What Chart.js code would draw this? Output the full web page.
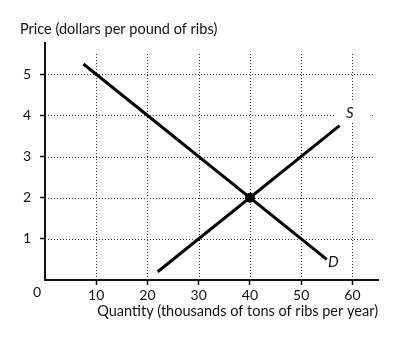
<!DOCTYPE html>
<html>
<head>
<meta charset="utf-8">
<script src="https://cdn.jsdelivr.net/npm/chart.js@4/dist/chart.umd.min.js"></script>
<style>
  body { margin: 0; background: #fff; }
  #wrap { width: 400px; height: 340px; }
</style>
</head>
<body>
<div id="wrap"><canvas id="ribsChart" width="400" height="340"></canvas></div>
<script>
// market for ribs: demand and supply curves
const demandQty = [7.5, 55];
const demandPrice = [5.25, 0.5];
const supplyQty = [22, 57.5];
const supplyPrice = [0.2, 3.75];
const eqQty = [40];
const eqPrice = [2];

const xTicks = [10, 20, 30, 40, 50, 60];
const yTicks = [1, 2, 3, 4, 5];

// where the curve names sit, in data units
const curveLabels = [
  { text: 'S', q: 59.5, p: 4.05, clear: true },
  { text: 'D', q: 56.3, p: 0.43, clear: false }
];

const FONT = 'Lato, "Open Sans", sans-serif';

const toPoints = (qs, ps) => qs.map((q, i) => ({ x: q, y: ps[i] }));

// dotted grid that stops short of the axis ends, plus curve names and origin 0
const ribsDecor = {
  id: 'ribsDecor',
  beforeDatasetsDraw(chart) {
    const { ctx, scales: { x, y } } = chart;
    ctx.save();
    ctx.strokeStyle = '#333';
    ctx.lineWidth = 1;
    ctx.setLineDash([1, 2]);
    yTicks.forEach(v => {
      const py = Math.round(y.getPixelForValue(v)) + 0.5;
      ctx.beginPath();
      ctx.moveTo(x.getPixelForValue(0), py);
      ctx.lineTo(x.getPixelForValue(64), py);
      ctx.stroke();
    });
    xTicks.forEach(v => {
      const px = Math.round(x.getPixelForValue(v)) + 0.5;
      ctx.beginPath();
      ctx.moveTo(px, y.getPixelForValue(0));
      ctx.lineTo(px, y.getPixelForValue(5.5));
      ctx.stroke();
    });
    ctx.setLineDash([]);
    ctx.font = 'italic 15px ' + FONT;
    ctx.textAlign = 'center';
    ctx.textBaseline = 'middle';
    curveLabels.forEach(l => {
      const px = x.getPixelForValue(l.q);
      const py = y.getPixelForValue(l.p);
      if (l.clear) {
        ctx.fillStyle = '#fff';
        ctx.fillRect(px - 16, py - 13, 38, 22);
      }
      ctx.fillStyle = '#111';
      ctx.fillText(l.text, px, py);
    });
    ctx.restore();
  },
  afterDraw(chart) {
    const { ctx, scales: { x, y } } = chart;
    ctx.save();
    ctx.font = '14px ' + FONT;
    ctx.fillStyle = '#111';
    ctx.textAlign = 'center';
    ctx.textBaseline = 'middle';
    ctx.fillText('0', x.getPixelForValue(0) - 8, y.getPixelForValue(0) + 12);
    ctx.restore();
  }
};

const tickGrid = {
  display: true,
  drawOnChartArea: false,
  drawTicks: true,
  tickLength: 5,
  tickColor: '#111',
  tickWidth: 1.5
};

new Chart(document.getElementById('ribsChart'), {
  type: 'scatter',
  data: {
    datasets: [
      {
        label: 'D',
        data: toPoints(demandQty, demandPrice),
        showLine: true,
        borderColor: '#000',
        borderWidth: 3,
        pointRadius: 0
      },
      {
        label: 'S',
        data: toPoints(supplyQty, supplyPrice),
        showLine: true,
        borderColor: '#000',
        borderWidth: 3,
        pointRadius: 0
      },
      {
        label: 'equilibrium',
        data: toPoints(eqQty, eqPrice),
        backgroundColor: '#000',
        borderColor: '#000',
        pointRadius: 4.5
      }
    ]
  },
  options: {
    responsive: false,
    animation: false,
    layout: { padding: { left: 20, right: 22, top: 0, bottom: 0 } },
    plugins: {
      legend: { display: false },
      tooltip: { enabled: false },
      title: {
        display: true,
        text: 'Price (dollars per pound of ribs)',
        align: 'start',
        color: '#111',
        font: { family: FONT, size: 14.5, weight: 'normal' },
        padding: { top: 21, bottom: 5 }
      }
    },
    scales: {
      x: {
        type: 'linear',
        min: 0,
        max: 65,
        afterBuildTicks: s => { s.ticks = xTicks.map(v => ({ value: v })); },
        afterFit: s => { s.height = 60; },
        ticks: {
          autoSkip: false,
          maxRotation: 0,
          padding: 2,
          color: '#111',
          font: { family: FONT, size: 14 }
        },
        grid: tickGrid,
        border: { display: true, color: '#111', width: 2 },
        title: {
          display: true,
          text: 'Quantity (thousands of tons of ribs per year)',
          align: 'end',
          color: '#111',
          font: { family: FONT, size: 14.5 },
          padding: { top: 2, bottom: 20 }
        }
      },
      y: {
        type: 'linear',
        min: 0,
        max: 5.75,
        afterBuildTicks: s => { s.ticks = yTicks.map(v => ({ value: v })); },
        afterFit: s => { s.width = 25; },
        ticks: {
          padding: 9,
          color: '#111',
          font: { family: FONT, size: 14 }
        },
        grid: tickGrid,
        border: { display: true, color: '#111', width: 2 }
      }
    }
  },
  plugins: [ribsDecor]
});
</script>
</body>
</html>
